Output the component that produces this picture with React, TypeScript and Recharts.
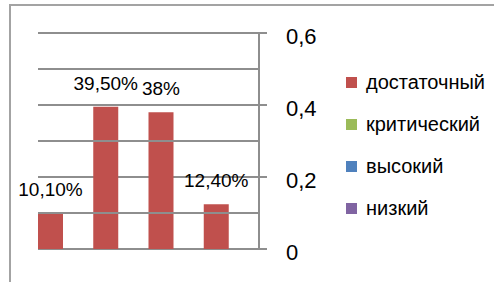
import { BarChart, Bar, XAxis, YAxis, CartesianGrid, ReferenceLine, LabelList } from 'recharts'

const categories = ['1', '2', '3', '4']
const dostatochny = [0.101, 0.395, 0.38, 0.124]
const valueLabels = ['10,10%', '39,50%', '38%', '12,40%']
const majorTicks = [0, 0.2, 0.4, 0.6]
const minorTicks = [0.1, 0.3, 0.5]
const legendNames = ['достаточный', 'критический', 'высокий', 'низкий']
const legendColors = ['#C0504D', '#9BBB59', '#4F81BD', '#8064A2']

const data = categories.map((c, i) => ({
  cat: c,
  dostatochny: dostatochny[i],
  empty: null,
  label: valueLabels[i],
}))

const font = '"Liberation Sans", Arial, sans-serif'
const gridColor = '#8e8e8e'

export default function App() {
  return (
    <div style={{ position: 'absolute', left: 0, top: 0, width: 494, height: 282, background: '#fff', fontFamily: font }}>
      {/* frame */}
      <div
        style={{
          position: 'absolute',
          left: 9,
          top: 4,
          width: 485,
          height: 278,
          borderTop: '2px solid #a3a3a3',
          borderLeft: '2px solid #a3a3a3',
        }}
      />
      <BarChart
        width={494}
        height={282}
        data={data}
        margin={{ top: 33, right: 175, left: 38, bottom: 33 }}
        barCategoryGap={0}
        barGap={5}
        style={{ position: 'absolute', left: 0, top: 0 }}
      >
        <CartesianGrid vertical={false} stroke={gridColor} strokeWidth={2} strokeDasharray="" />
        {minorTicks.map((t) => (
          <ReferenceLine key={t} y={t} stroke={gridColor} strokeWidth={2} />
        ))}
        <XAxis dataKey="cat" hide />
        <YAxis
          orientation="right"
          width={60}
          domain={[0, 0.6]}
          ticks={majorTicks}
          tickFormatter={(v: number) => String(v).replace('.', ',')}
          tick={{ fontSize: 22, fill: '#000', fontFamily: font, dy: 3 }}
          tickSize={8}
          tickMargin={19}
          axisLine={{ stroke: gridColor, strokeWidth: 2 }}
          tickLine={{ stroke: gridColor, strokeWidth: 2 }}
        />
        <Bar dataKey="dostatochny" fill="#C0504D" isAnimationActive={false}>
          <LabelList dataKey="label" position="top" offset={17} fill="#000" fontSize={19} fontFamily={font} />
        </Bar>
        <Bar dataKey="empty" fill="#9BBB59" isAnimationActive={false} />
      </BarChart>
      {/* legend */}
      <div style={{ position: 'absolute', left: 346, top: 61 }}>
        {legendNames.map((n, i) => (
          <div key={n} style={{ display: 'flex', alignItems: 'center', height: 42 }}>
            <div style={{ width: 11, height: 11, background: legendColors[i], marginRight: 9 }} />
            <span style={{ fontSize: 20, color: '#000', lineHeight: '22px' }}>{n}</span>
          </div>
        ))}
      </div>
    </div>
  )
}
